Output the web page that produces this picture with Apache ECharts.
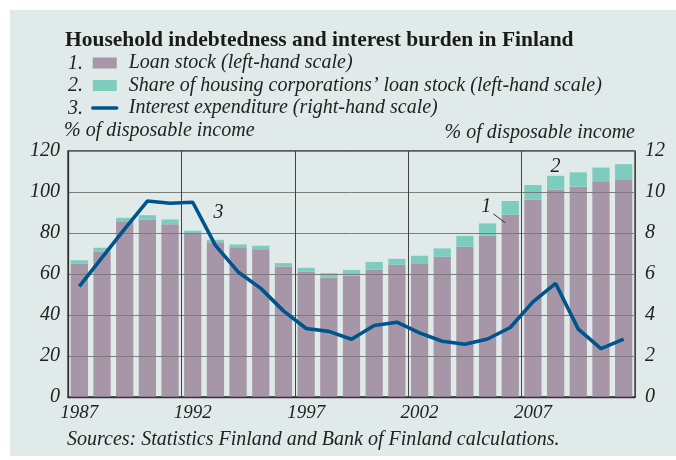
<!DOCTYPE html>
<html>
<head>
<meta charset="utf-8">
<script src="https://cdn.jsdelivr.net/npm/echarts@6/dist/echarts.min.js"></script>
<style>
  html, body { margin: 0; padding: 0; background: #fff; }
  #chart { width: 676px; height: 460px; }
</style>
</head>
<body>
<div id="chart"></div>
<script>
// years on the x axis
var years = ['1987', '1988', '1989', '1990', '1991', '1992', '1993', '1994', '1995', '1996',
    '1997', '1998', '1999', '2000', '2001', '2002', '2003', '2004', '2005', '2006',
    '2007', '2008', '2009', '2010', '2011'];
// 1. loan stock, % of disposable income (left scale)
var loanStock = [65.1, 70.8, 85.7, 86.6, 84.3, 79.6, 75.5, 73.0, 72.1, 63.7,
    61.2, 58.3, 59.3, 62.2, 64.5, 65.3, 68.4, 73.3, 78.8, 88.9,
    96.4, 101.1, 102.6, 105.2, 106.2];
// 2. share of housing corporations' loan stock (left scale)
var housingShare = [1.6, 2.0, 1.7, 2.1, 2.3, 1.5, 1.2, 1.4, 1.7, 1.6,
    1.8, 2.1, 2.7, 3.7, 2.9, 3.6, 4.1, 5.3, 5.9, 6.7,
    7.0, 6.8, 7.0, 6.7, 7.4];
// 3. interest expenditure, % of disposable income (right scale)
var interest = [5.4, 6.8, 8.2, 9.56, 9.45, 9.5, 7.4, 6.1, 5.3, 4.2,
    3.34, 3.2, 2.82, 3.49, 3.65, 3.13, 2.72, 2.57, 2.83, 3.39,
    4.64, 5.54, 3.31, 2.36, 2.82];
var leftTicks = [0, 20, 40, 60, 80, 100, 120];
var rightTicks = [0, 2, 4, 6, 8, 10, 12];

var names = [
    'Loan stock (left-hand scale)',
    'Share of housing corporations\u2019 loan stock (left-hand scale)',
    'Interest expenditure (right-hand scale)'
];
var colors = ['#a696a8', '#7dcdbe', '#00548c'];
var serif = '"Liberation Serif", "DejaVu Serif", serif';
var ink = '#222';

var chart = echarts.init(document.getElementById('chart'));

var option = {
    animation: false,
    backgroundColor: '#fff',
    textStyle: { fontFamily: serif },
    grid: {
        left: 68, right: 41, top: 151, bottom: 63,
        show: true, borderColor: '#333', borderWidth: 1.3, backgroundColor: 'transparent'
    },
    legend: {
        orient: 'vertical',
        left: 91, top: 53, padding: 0,
        itemWidth: 24, itemHeight: 11, itemGap: 2.5,
        textStyle: { fontFamily: serif, fontStyle: 'italic', fontSize: 20, color: ink, lineHeight: 20, padding: [0, 0, 0, 7] },
        data: [
            { name: names[0], icon: 'rect' },
            { name: names[1], icon: 'rect' },
            { name: names[2], itemStyle: { opacity: 0 }, lineStyle: { width: 3.5, cap: 'round' } }
        ]
    },
    xAxis: {
        type: 'category',
        data: years,
        z: 3,
        axisLine: { lineStyle: { color: '#333', width: 1.3 } },
        axisTick: { show: false },
        axisLabel: {
            interval: 4, margin: 6, color: ink,
            fontFamily: serif, fontStyle: 'italic', fontSize: 19
        },
        splitLine: {
            show: true,
            interval: function (i) { return i % 5 === 0; },
            lineStyle: { color: '#444', width: 1 }
        }
    },
    yAxis: [
        {
            type: 'value', min: 0, max: 120, interval: 20, z: 3,
            name: '% of disposable income', nameLocation: 'end', nameGap: 8,
            nameTextStyle: { align: 'left', verticalAlign: 'bottom', fontFamily: serif, fontStyle: 'italic', fontSize: 20, color: ink, padding: [0, 0, 0, -4] },
            axisLine: { show: true, lineStyle: { color: '#333', width: 1.3 } },
            axisTick: { show: false },
            axisLabel: {
                margin: 8, color: ink, fontFamily: serif, fontStyle: 'italic', fontSize: 20,
                formatter: function (v) { return leftTicks.indexOf(v) >= 0 ? String(v) : ''; }
            },
            splitLine: { lineStyle: { color: '#7c7c7c', width: 1 } }
        },
        {
            type: 'value', min: 0, max: 12, interval: 2, z: 3,
            name: '% of disposable income', nameLocation: 'end', nameGap: 8,
            nameTextStyle: { align: 'right', verticalAlign: 'bottom', fontFamily: serif, fontStyle: 'italic', fontSize: 20, color: ink },
            axisLine: { show: false },
            axisTick: { show: false },
            axisLabel: {
                margin: 10, color: ink, fontFamily: serif, fontStyle: 'italic', fontSize: 20,
                formatter: function (v) { return rightTicks.indexOf(v) >= 0 ? String(v) : ''; }
            },
            splitLine: { show: false }
        }
    ],
    series: [
        {
            name: names[0], type: 'bar', stack: 'debt', data: loanStock,
            barCategoryGap: '24%', z: 2,
            itemStyle: { color: colors[0] }
        },
        {
            name: names[1], type: 'bar', stack: 'debt', data: housingShare,
            z: 2,
            itemStyle: { color: colors[1] }
        },
        {
            name: names[2], type: 'line', yAxisIndex: 1, data: interest,
            symbol: 'none', z: 6,
            lineStyle: { color: colors[2], width: 3.6 },
            itemStyle: { color: colors[2] }
        }
    ]
};
chart.setOption(option);

// annotations anchored through the axes
var p3 = chart.convertToPixel({ xAxisIndex: 0, yAxisIndex: 1 }, ['1993', 9.0]);
var p2 = chart.convertToPixel({ xAxisIndex: 0, yAxisIndex: 0 }, ['2008', loanStock[21] + housingShare[21]]);
var p1 = chart.convertToPixel({ xAxisIndex: 0, yAxisIndex: 0 }, ['2006', 85]);
var labelFont = 'italic 20px ' + serif;

chart.setOption({
    graphic: [
        { type: 'rect', z: -10, silent: true, shape: { x: 10, y: 10, width: 666, height: 446 }, style: { fill: '#e0eae8' } },
        { type: 'text', left: 65, top: 29, style: { text: 'Household indebtedness and interest burden in Finland', font: 'bold 21.5px ' + serif, fill: '#1a1a1a' } },
        { type: 'text', left: 68, top: 52, style: { text: '1.\n2.\n3.', font: 'italic 20px ' + serif, fill: ink, lineHeight: 22.5 } },
        { type: 'text', left: 67, top: 430, style: { text: 'Sources: Statistics Finland and Bank of Finland calculations.', font: 'italic 20px ' + serif, fill: ink } },
        { type: 'text', x: p3[0] + 3, y: p3[1], style: { text: '3', font: labelFont, fill: ink, align: 'center', verticalAlign: 'middle' } },
        { type: 'text', x: p2[0], y: p2[1] + 1, style: { text: '2', font: labelFont, fill: ink, align: 'center', verticalAlign: 'bottom' } },
        { type: 'text', x: p1[0] - 24, y: p1[1] - 16, style: { text: '1', font: labelFont, fill: ink, align: 'center', verticalAlign: 'middle' } },
        { type: 'line', z: 10, shape: { x1: p1[0] - 17, y1: p1[1] - 9, x2: p1[0] - 5, y2: p1[1] }, style: { stroke: '#333', lineWidth: 1 } }
    ]
});
</script>
</body>
</html>
